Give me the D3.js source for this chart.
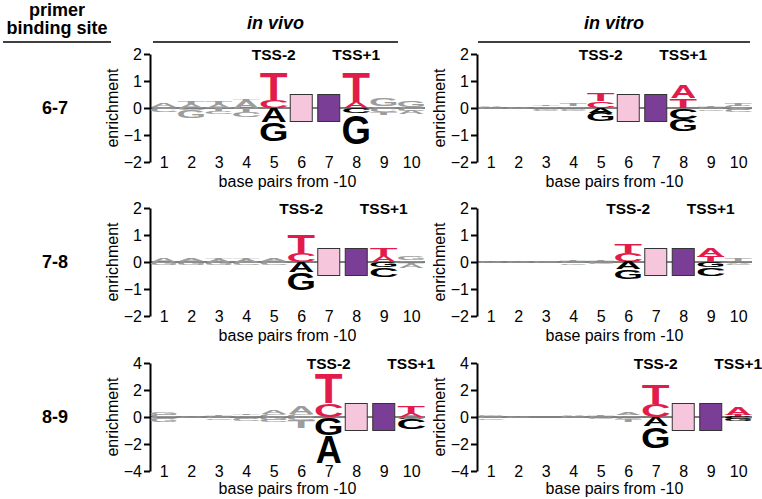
<!DOCTYPE html>
<html><head><meta charset="utf-8">
<script src="https://cdn.jsdelivr.net/npm/d3@7"></script>
<style>body{margin:0;background:#fff} svg{display:block} text{font-family:"Liberation Sans",Arial,Helvetica,sans-serif}</style>
</head><body><svg id="c" width="762" height="499"></svg>
<script>
// ---------- data ----------
const positions = [1,2,3,4,5,6,7,8,9,10];
const rowLabels = ["6-7","7-8","8-9"];
const colLabels = ["in vivo","in vitro"];
const yTicksRow = [[-2,-1,0,1,2],[-2,-1,0,1,2],[-4,-2,0,2,4]];
const yDomainRow = [2,2,4];
const tssMinus2Pos = [5,6,7];           // TSS-2 position per row
const tssPlus1Pos = [8,9,10];           // TSS+1 position per row
const boxPos = [[6,7],[7,8],[8,9]];     // fixed-base boxes per row
const boxHalf = [0.5,0.5,1];            // box half height (enrichment units)
const xLabel = "base pairs from -10";
const yLabel = "enrichment";

// letters stacked from zero outwards: [letter, height]
const vivo67Up = [[["C",0.04],["A",0.14]],[["A",0.14],["T",0.08]],[["A",0.14],["T",0.07]],[["A",0.3],["T",0.05]],[["C",0.28],["T",1.05]],[],[],[["A",0.22],["T",1.12]],[["C",0.05],["G",0.28]],[["C",0.05],["G",0.25]]];
const vivo67Down = [[["C",0.14]],[["C",0.08],["G",0.3]],[["T",0.12],["C",0.12]],[["T",0.15],["C",0.2]],[["A",0.53],["G",0.7]],[],[],[["C",0.2],["G",1.15]],[["C",0.15],["T",0.1]],[["C",0.12],["A",0.12]]];
const vitro67Up = [[["G",0.03],["A",0.03]],[["A",0.03]],[["C",0.06],["T",0.06]],[["C",0.06],["T",0.08]],[["C",0.27],["T",0.27]],[],[],[["T",0.36],["A",0.5]],[["C",0.05],["T",0.06]],[["C",0.08],["T",0.08]]];
const vitro67Down = [[["C",0.04]],[["C",0.03]],[["G",0.06],["C",0.06]],[["G",0.06],["C",0.06]],[["A",0.17],["G",0.33]],[],[],[["C",0.42],["G",0.45]],[["G",0.05],["C",0.05]],[["A",0.07],["C",0.08]]];
const vivo78Up = [[["A",0.12]],[["C",0.04],["A",0.1]],[["A",0.1],["T",0.05]],[["A",0.1],["T",0.05]],[["C",0.05],["A",0.1]],[["C",0.33],["T",0.66]],[],[],[["A",0.22],["T",0.3]],[["C",0.06],["G",0.15]]];
const vivo78Down = [[["C",0.05],["G",0.08]],[["G",0.1]],[["A",0.05],["G",0.08]],[["G",0.05],["C",0.08]],[["G",0.05],["C",0.08]],[["A",0.38],["G",0.67]],[],[],[["G",0.2],["C",0.35]],[["T",0.06],["A",0.15]]];
const vitro78Up = [[["A",0.02]],[["A",0.02]],[["C",0.04]],[["C",0.05],["T",0.05]],[["C",0.04],["T",0.06]],[["C",0.35],["T",0.35]],[],[],[["T",0.22],["A",0.27]],[["C",0.05],["T",0.08]]];
const vitro78Down = [[["C",0.02]],[["C",0.02]],[["G",0.04]],[["G",0.05],["C",0.05]],[["G",0.04],["C",0.05]],[["A",0.27],["G",0.38]],[],[],[["G",0.2],["C",0.32]],[["A",0.06],["C",0.06]]];
const vivo89Up = [[["C",0.15],["G",0.2]],[["A",0.08]],[["C",0.1],["T",0.1]],[["C",0.12],["T",0.12]],[["C",0.2],["A",0.25]],[["C",0.2],["A",0.55]],[["C",1.02],["T",2.3]],[],[],[["A",0.25],["T",0.55]]];
const vivo89Down = [[["C",0.15],["G",0.25]],[["G",0.08]],[["G",0.1],["C",0.1]],[["G",0.12],["C",0.15]],[["G",0.2],["C",0.2]],[["C",0.2],["T",0.6]],[["G",1.35],["A",2.05]],[],[],[["G",0.12],["C",0.8]]];
const vitro89Up = [[["C",0.1],["G",0.12]],[["A",0.08]],[["A",0.03]],[["C",0.08],["A",0.06]],[["C",0.08],["T",0.08]],[["C",0.12],["A",0.22]],[["C",1.0],["T",1.45]],[],[],[["T",0.15],["A",0.55]]];
const vitro89Down = [[["G",0.1],["C",0.1]],[["C",0.08]],[["C",0.03]],[["G",0.08]],[["G",0.1],["C",0.08]],[["C",0.12],["T",0.22]],[["A",0.7],["G",1.6]],[],[],[["C",0.18],["G",0.15]]];

const panelData = [
  [[vivo67Up,vivo67Down],[vitro67Up,vitro67Down]],
  [[vivo78Up,vivo78Down],[vitro78Up,vitro78Down]],
  [[vivo89Up,vivo89Down],[vitro89Up,vitro89Down]]
];

// ---------- style ----------
const RED = "#e31b4b", GRAY = "#9c9c9c", BLACK = "#000", PINK = "#f6c6dc", PURPLE = "#7b3e96";
const colX = [150, 477];
const rowTop = [54, 208, 363], rowH = 108;
const xLabelOff = [25, 25, 23];
const panelW = 275, letterW = 26, boxW = 22;
const FONT = "Liberation Sans, Arial, sans-serif";

const svg = d3.select("#c");

// glyph ink metrics (per 100px Liberation Sans Bold)
const ink = {A:[0,72.2,-71.6,0], C:[4.4,67.8,-73.6,1.5], G:[4.3,72.8,-73.6,1.5], T:[2.1,59.2,-71.6,0]};
function drawLetter(g, L, xc, yTop, yBot, color){
  const h = yBot - yTop; if (h <= 0.2) return;
  const m = ink[L];
  const sx = letterW/(m[1]-m[0]), sy = h/(m[3]-m[2]);
  g.append("text").text(L).attr("font-size",100).attr("font-weight","bold").attr("fill",color)
    .attr("transform",`translate(${xc-letterW/2},${yBot}) scale(${sx},${sy}) translate(${-m[0]},${-m[3]})`);
}

// headers
svg.append("text").attr("x",57).attr("y",16).attr("text-anchor","middle").attr("font-size",18).attr("font-weight","bold").text("primer");
svg.append("text").attr("x",57).attr("y",34).attr("text-anchor","middle").attr("font-size",18).attr("font-weight","bold").text("binding site");
svg.append("line").attr("x1",3).attr("x2",111).attr("y1",42).attr("y2",42).attr("stroke","#000").attr("stroke-width",1.5);
colLabels.forEach((c,i)=>{
  const x0 = i===0?153:478, x1 = i===0?398:750;
  svg.append("text").attr("x",(x0+x1)/2).attr("y",29).attr("text-anchor","middle").attr("font-size",18)
    .attr("font-weight","bold").attr("font-style","italic").text(c);
  svg.append("line").attr("x1",x0).attr("x2",x1).attr("y1",42).attr("y2",42).attr("stroke","#000").attr("stroke-width",1.5);
});
rowLabels.forEach((r,i)=>{
  const y0 = d3.scaleLinear().domain([-yDomainRow[i],yDomainRow[i]]).range([rowTop[i]+rowH,rowTop[i]])(0);
  svg.append("text").attr("x",55).attr("y",y0+6).attr("text-anchor","middle").attr("font-size",18).attr("font-weight","bold").text(r);
});

rowLabels.forEach((r,ri)=>{
  colLabels.forEach((c,ci)=>{
    const ax = colX[ci];
    const y = d3.scaleLinear().domain([-yDomainRow[ri],yDomainRow[ri]]).range([rowTop[ri]+rowH,rowTop[ri]]);
    const x = d3.scaleLinear().domain([0.5,10.5]).range([ax, ax+panelW]);
    const g = svg.append("g");
    // zero line
    g.append("line").attr("x1",ax).attr("x2",ax+panelW).attr("y1",y(0)).attr("y2",y(0)).attr("stroke","#000").attr("stroke-width",1);
    // y axis
    const yAxis = d3.axisLeft(y).tickValues(yTicksRow[ri]).tickFormat(d3.format("d")).tickSize(6).tickPadding(2).tickSizeOuter(0);
    const ya = g.append("g").attr("transform",`translate(${ax},0)`).call(yAxis);
    ya.select(".domain").attr("stroke-width",2);
    ya.selectAll(".tick line").attr("stroke-width",2);
    ya.selectAll("text").attr("font-size",16).attr("font-family",FONT);
    // x tick labels
    const xAxis = d3.axisBottom(x).tickValues(positions).tickSize(0).tickPadding(0);
    const xa = g.append("g").attr("transform",`translate(0,${y.range()[0]-5})`).call(xAxis);
    xa.select(".domain").remove();
    xa.selectAll("text").attr("font-size",16).attr("font-family",FONT).attr("dy","0.71em");
    // axis titles
    g.append("text").attr("x",ax+panelW/2).attr("y",y.range()[0]+xLabelOff[ri]).attr("text-anchor","middle").attr("font-size",16).text(xLabel);
    g.append("text").attr("transform",`translate(${ax-32},${y(0)}) rotate(-90)`).attr("text-anchor","middle").attr("font-size",16).text(yLabel);
    // TSS labels
    g.append("text").attr("x",x(tssMinus2Pos[ri])).attr("y",y.range()[1]+6).attr("text-anchor","middle").attr("font-size",15.5).attr("font-weight","bold").text("TSS-2");
    g.append("text").attr("x",x(tssPlus1Pos[ri])).attr("y",y.range()[1]+6).attr("text-anchor","middle").attr("font-size",15.5).attr("font-weight","bold").text("TSS+1");
    // boxes
    boxPos[ri].forEach((p,bi)=>{
      g.append("rect").attr("x",x(p)-boxW/2).attr("width",boxW)
        .attr("y",y(boxHalf[ri])).attr("height",y(-boxHalf[ri])-y(boxHalf[ri]))
        .attr("fill",bi===0?PINK:PURPLE).attr("stroke","#333").attr("stroke-width",1);
    });
    // letters
    const [up,down] = panelData[ri][ci];
    positions.forEach((p,pi)=>{
      const special = p===tssMinus2Pos[ri] || p===tssPlus1Pos[ri];
      let acc = 0;
      up[pi].forEach(([L,h])=>{
        drawLetter(g,L,x(p),y(acc+h),y(acc),special?RED:GRAY);
        acc += h;
      });
      acc = 0;
      down[pi].forEach(([L,h])=>{
        drawLetter(g,L,x(p),y(-acc),y(-acc-h),special?BLACK:GRAY);
        acc += h;
      });
    });
  });
});
</script></body></html>
